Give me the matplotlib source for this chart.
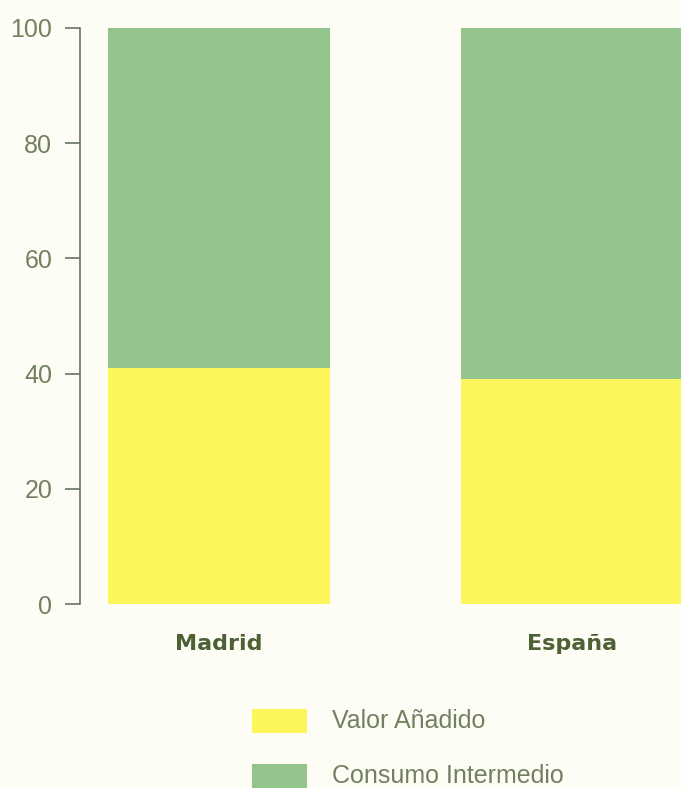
import matplotlib.pyplot as plt
from matplotlib.patches import Rectangle

regiones = ["Madrid", "España"]
valor_anadido = [41, 39]
consumo_intermedio = [59, 61]
ticks_y = [0, 20, 40, 60, 80, 100]

amarillo = "#fbf65c"
verde = "#92c48c"
texto = "#72805f"
fondo = "#fdfdf6"

plt.rcParams['font.family'] = ['Liberation Sans', 'DejaVu Sans']

fig = plt.figure(figsize=(6.81, 7.88), dpi=100, facecolor=fondo)
ax = fig.add_axes([0.1175, 0.2335, 0.8825, 0.731])
ax.set_facecolor(fondo)

x = range(len(regiones))
ax.bar(x, valor_anadido, width=0.629, color=amarillo, linewidth=0)
ax.bar(x, consumo_intermedio, width=0.629, bottom=valor_anadido, color=verde, linewidth=0)

ax.set_xlim(-0.394, 1.309)
ax.set_ylim(0, 100)
ax.set_yticks(ticks_y)
ax.tick_params(axis='y', length=11, width=1.2, color="#6a7560", labelcolor=texto,
               labelsize=18, pad=9)
ax.set_xticks([])
for s in ['top', 'right', 'bottom']:
    ax.spines[s].set_visible(False)
ax.spines['left'].set_color("#6a7560")
ax.spines['left'].set_linewidth(1.2)

for i, r in enumerate(regiones):
    ax.text(i, -7, r, ha='center', va='center', fontsize=16, fontweight='bold',
            family='DejaVu Sans', color="#4d6135", clip_on=False)

# leyenda manual
etiquetas = ["Valor Añadido", "Consumo Intermedio"]
colores = [amarillo, verde]
ys = [1 - 721 / 788, 1 - 776 / 788]
for et, c, yy in zip(etiquetas, colores, ys):
    fig.patches.append(Rectangle((252 / 681, yy - 12 / 788), 55 / 681, 24 / 788,
                                 transform=fig.transFigure, color=c, linewidth=0))
    fig.text(332 / 681, yy, et, ha='left', va='center', fontsize=18, color=texto)

fig.savefig("out.png", dpi=100, facecolor=fondo)
